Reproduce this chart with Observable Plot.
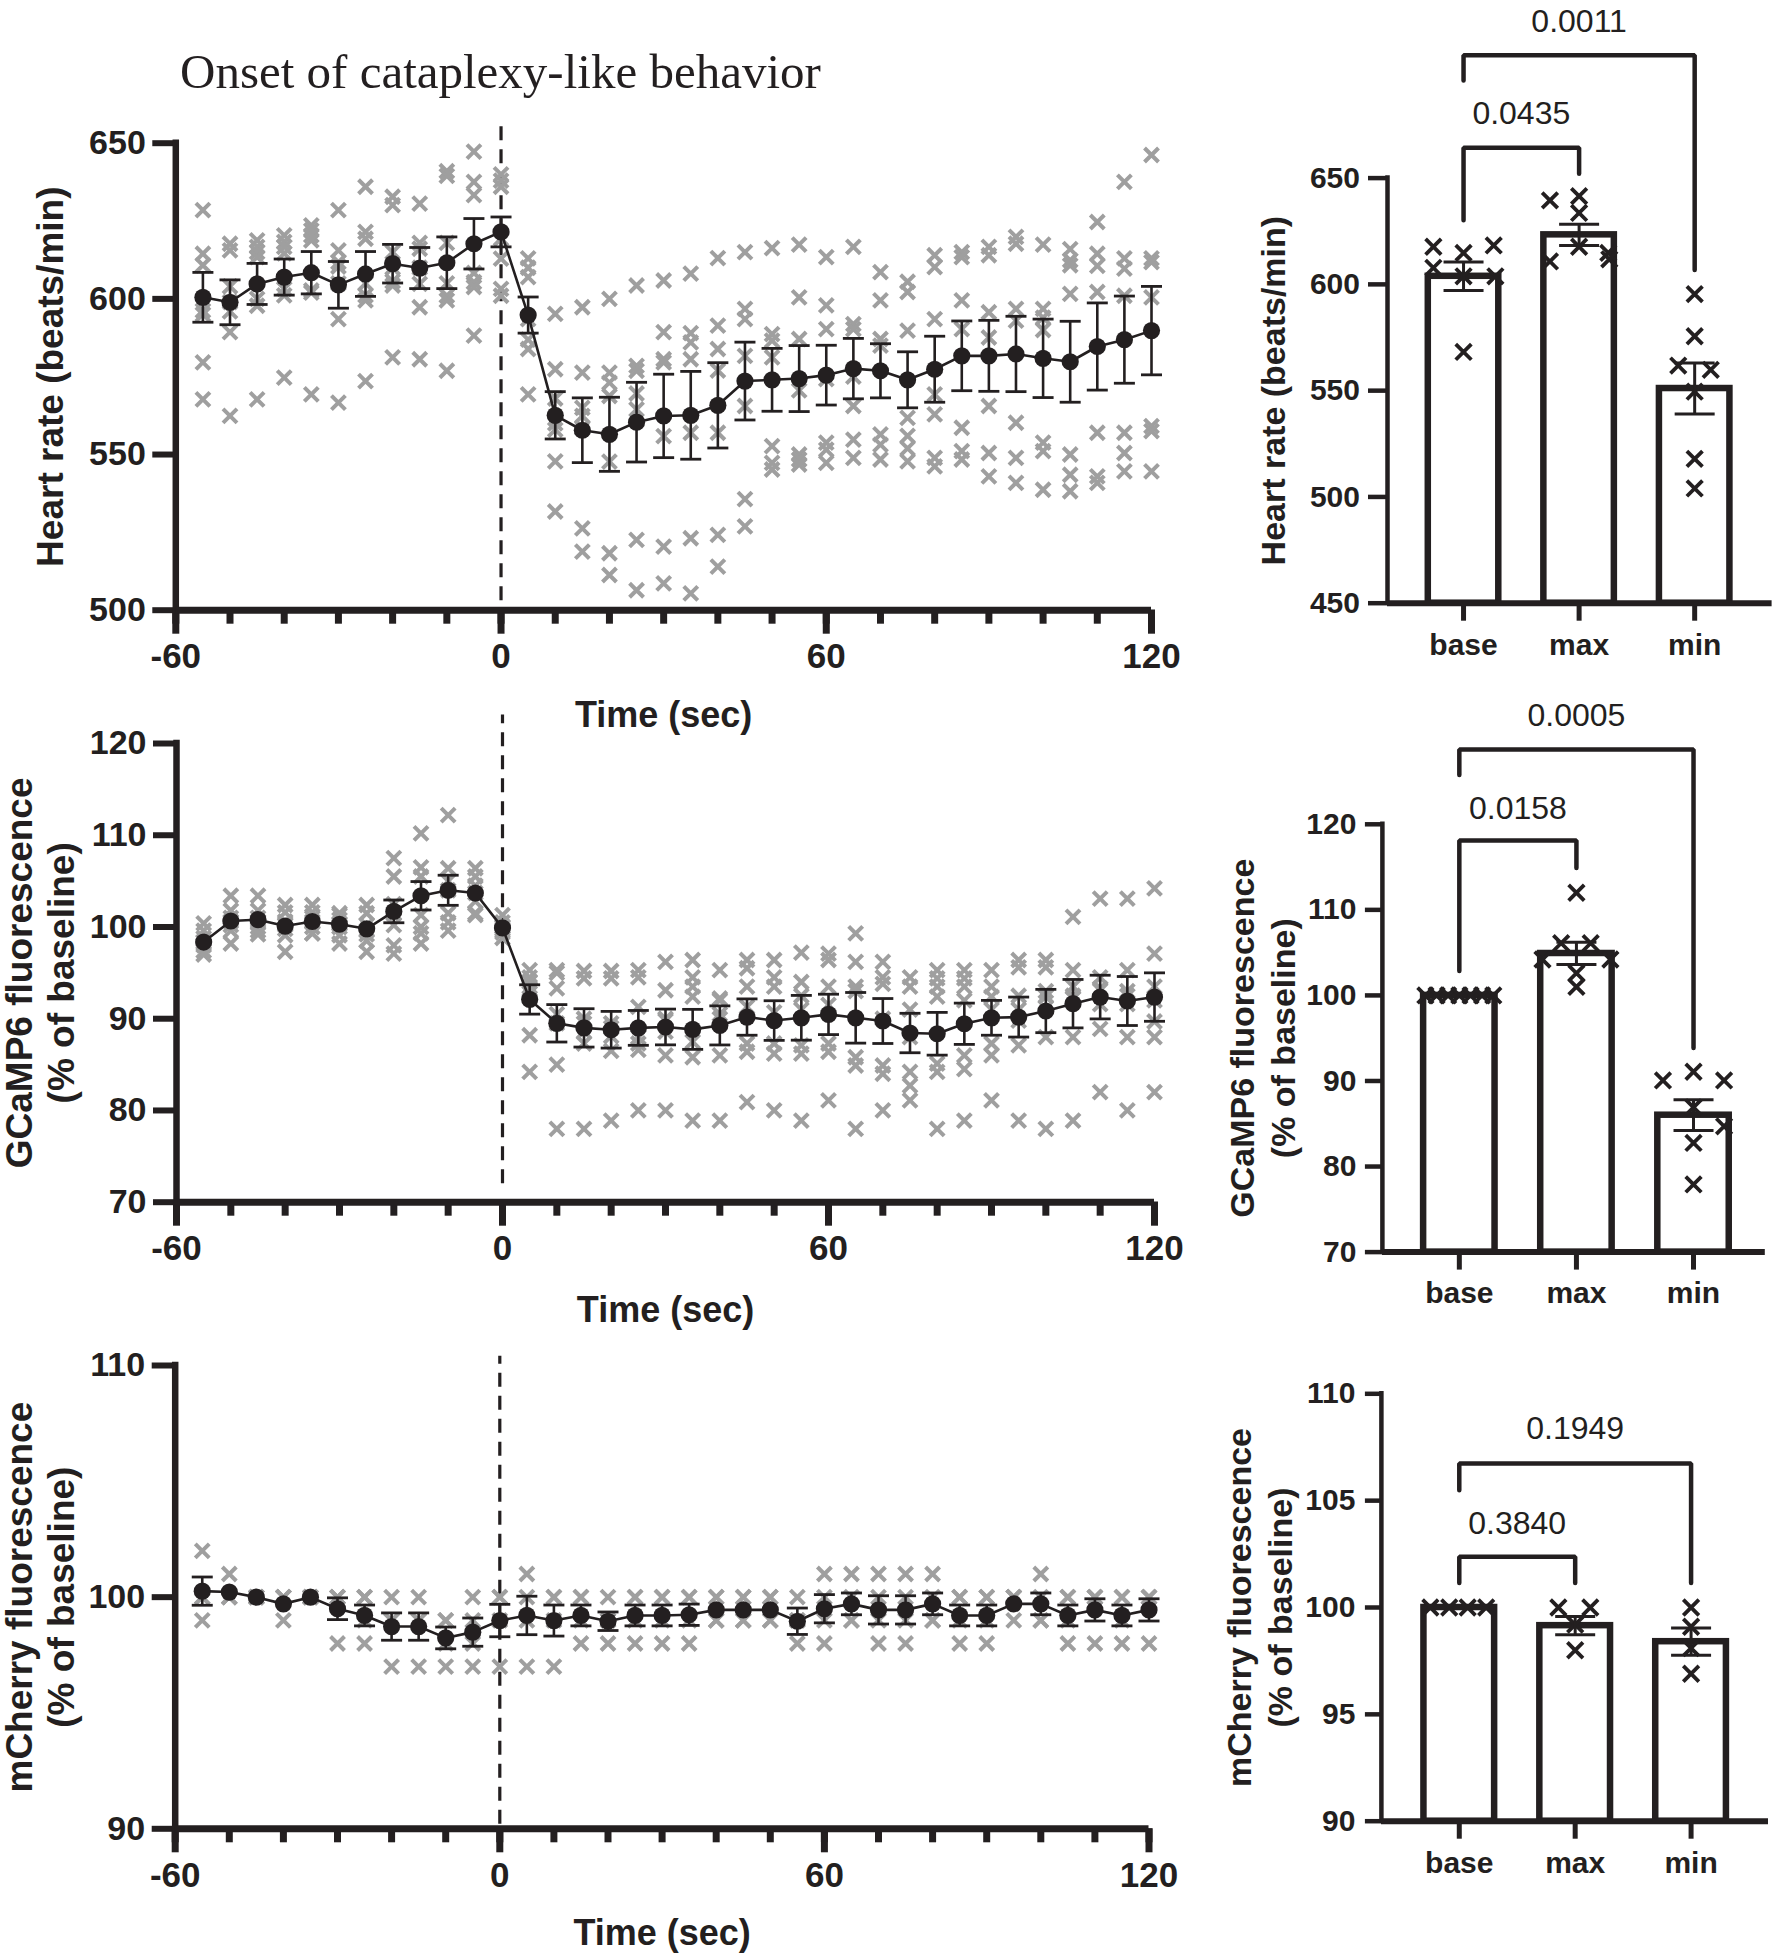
<!DOCTYPE html>
<html><head><meta charset="utf-8">
<script src="https://cdn.jsdelivr.net/npm/d3@7"></script>
<script src="https://cdn.jsdelivr.net/npm/@observablehq/plot@0.6"></script>
<style>
body{margin:0;background:#fff;}
#root{position:relative;width:1776px;height:1956px;overflow:hidden;background:#fff;}
.panel{position:absolute;}
.panel svg{display:block;overflow:visible;background:transparent;max-width:none;}
#title{position:absolute;left:180px;top:47px;font-family:"Liberation Serif","Times New Roman",serif;font-size:49px;line-height:49px;color:#231f20;white-space:nowrap;}
</style></head>
<body><div id="root"><div id="title">Onset of cataplexy-like behavior</div></div>
<script>
// ---------------- data ----------------
const times = [-55,-50,-45,-40,-35,-30,-25,-20,-15,-10,-5,0,5,10,15,20,25,30,35,40,45,50,55,60,65,70,75,80,85,90,95,100,105,110,115,120];
const minorTicks = [-60,-50,-40,-30,-20,-10,0,10,20,30,40,50,60,70,80,90,100,110,120];
const majorTicks = [-60,0,60,120];

// Heart rate (beats/min), mean and SEM per time point
const hrMean = [600.5,598.9,604.8,607.0,608.4,604.5,608.0,611.3,609.9,611.6,617.7,621.5,594.8,562.6,557.8,556.5,560.4,562.4,562.6,565.8,573.6,574.0,574.4,575.5,577.6,576.9,574.0,577.4,581.7,581.7,582.3,580.9,579.8,584.7,586.9,589.8];
const hrSem = [8,7.2,6.6,5.8,6.8,7.5,7.2,6.2,6.6,8.3,8.1,4.8,5.8,7.6,10.4,11.9,12.8,13.4,14.1,13.7,12.5,10.1,10.6,9.6,9.7,8.7,9.0,10.6,11.2,11.4,12.1,12.6,13.0,14.0,14.0,14.2];
// individual animals (7) per time point
const hrSubjects = [
[628.5,614.5,610.8,596.2,595,579.6,567.7],
[617.7,615.6,604,599,596,589.3,562.4],
[618.8,616.7,615,613.4,600,597.8,567.7],
[620.4,618.3,616.7,614.6,603.2,601.1,574.7],
[623.6,622,620.4,618.8,602.7,602,569.3],
[628.5,615.6,611.8,610.4,605,593.5,566.7],
[636,621.5,619.3,605,601.1,599.5,573.6],
[632.8,630.1,615,610,605.6,604.3,581.2],
[630.6,618,616.1,610,604.8,597.3,580.6],
[641,639.5,618,605,601,599.5,576.9],
[647.3,637.6,633.3,608.3,605.4,603.8,588.2],
[640,638,636,619.3,612.9,603.2,601],
[613,610,607,593.5,586.9,583.9,569.3],
[595.2,577.4,568,560,558,547.8,531.7],
[597.3,576.3,565,562.4,558.5,526.3,518.8],
[600,576.3,573.1,568.8,547.7,518.3,511.3],
[604.3,578.5,576.9,569.6,564.5,522.6,506.4],
[605.9,589.3,580.6,579.6,555.9,520.4,508.6],
[608.1,589,586,580.6,557,523.1,505.4],
[613.1,591.4,583.9,577,557,524.2,514],
[615,596.8,593.5,581.7,565.6,535.7,526.9],
[616.3,588.7,586.6,581.2,552.7,547.3,545.2],
[617.4,600.5,587.1,570.6,550,548.4,546.8],
[613.4,597.9,590.3,574.2,553.8,551.6,547.3],
[616.7,591.9,590.3,575,565.6,554.8,548.9],
[608.6,599.5,587.1,585,556.5,553.2,548.4],
[605.5,602.2,589.8,561.8,556,552,547.8],
[614,610.2,593.5,569.3,562.9,548.9,546.2],
[615,613.4,599.5,590.3,558.6,551.1,548.4],
[616.7,614,595.7,587.6,565.6,550.5,543],
[619.9,617.7,596.8,593,560.2,548.9,540.9],
[617.4,596.8,594,590,553.8,551.1,538.7],
[616,612.4,610.8,601.6,550,543.5,538.2],
[624.7,614.5,610.6,602.2,557,543,540.9],
[637.6,613,609.7,601,557,550.5,544.6],
[646.2,613,611.8,600.5,559.1,557.5,544.6]
];

// GCaMP6 fluorescence (% of baseline)
const gcMean = [98.36,100.65,100.8,100.1,100.6,100.3,99.8,101.7,103.4,104.0,103.7,99.9,92.1,89.5,89.0,88.8,89.0,89.1,88.84,89.27,90.18,89.8,90.1,90.47,90.1,89.75,88.44,88.36,89.45,90.1,90.18,90.84,91.64,92.36,91.93,92.36];
// null = error bar smaller than the symbol (not drawn)
const gcSem = [null,null,null,null,null,null,null,1.24,1.55,1.64,null,null,1.6,2.04,2.09,2.0,1.9,1.95,2.18,2.13,1.98,2.16,2.44,2.2,2.76,2.45,2.15,2.33,2.25,1.9,2.18,2.36,2.64,2.38,2.67,2.64];
const gcSubjects = [
[100.4,99.6,98.8,98.4,98,97.4,97],
[103.4,101.8,101,100.6,100.2,99.6,98.2],
[103.4,101.8,101,100.6,100,99.6,99.2],
[102.4,101.6,100.6,100.2,99.8,99.1,97.3],
[102.4,101.6,101,100.6,100,99.3,99.3],
[101.5,101.3,100.8,100.4,100,99.1,98.2],
[102.4,101.5,100.2,99.6,99.2,98.5,97.3],
[107.5,105.5,102.5,101.5,100.2,98,97.1],
[110.2,106.5,105.5,101.3,100,99.3,98.2],
[112.2,106.4,105,104,101.5,100.5,99.6],
[106.4,105.5,104.5,103.7,102.8,101.5,101.3],
[101.3,100.5,100,99.8,99.6,99.4,98.8],
[95.3,94.5,94,93.5,93.2,88.2,84.2],
[95.3,95,93.3,90.5,89.5,85,78],
[95.2,94.4,90,89.5,88.6,87.3,78],
[95.2,94.4,89.5,89,88.1,86.5,78.9],
[95.3,94.5,91.3,88,87.3,86.6,80],
[96.2,93.1,90,89.8,88.6,86,80],
[96.4,94.5,93.5,92.4,87.5,85.8,78.9],
[95.3,92.2,92,90.5,90,86,78.9],
[96.4,95.5,93.5,91.3,87.3,86.4,80.9],
[96.4,94.5,93.5,90.7,87.3,86.2,80],
[97.2,94,92.5,91,87.1,86.2,78.9],
[97.1,96.4,93.5,91.5,87.3,86.4,81.1],
[99.3,96.2,93.5,93,85.8,84.9,78],
[96.2,94.5,93.8,90,84.9,84,80],
[94.5,93.5,91,88,84.2,82.7,81.1],
[95.3,94.4,93.5,92.4,85.1,84.2,78],
[95.3,94.4,93.5,92,86,84.5,78.9],
[95.3,93.5,92.4,91,87.3,86,81.1],
[96.4,95.6,92.5,91,89.8,87.1,78.9],
[96.4,95.6,93,92.5,92.4,88,78],
[101.1,95.3,93.5,92.5,92.2,88,78.9],
[103.1,94.5,93.3,93.1,91.6,88.9,82],
[103.1,95.3,93,92.5,91.6,88,80],
[104.2,97.1,93.5,92,89.7,88,82]
];

// mCherry fluorescence (% of baseline)
const mcMean = [100.26,100.22,100.0,99.71,100.0,99.5,99.21,98.73,98.73,98.24,98.49,98.99,99.21,98.99,99.21,98.96,99.21,99.21,99.24,99.45,99.45,99.45,98.96,99.5,99.71,99.45,99.45,99.71,99.21,99.21,99.71,99.71,99.21,99.45,99.21,99.45];
const mcSem = [0.61,null,null,null,null,0.47,0.45,0.59,0.59,0.47,0.61,0.7,0.83,0.67,0.45,0.4,0.45,0.45,0.46,null,null,null,0.57,0.61,0.47,0.61,0.61,0.47,0.45,0.45,null,0.47,0.45,0.48,0.45,0.48];
const mcSubjects = [
[102,100,100,99],[101,100,100,100],[100,100,100,100],[100,100,100,99],[100,100,100,100],
[100,100,100,98],[100,100,99,98],[100,99,99,97],[100,99,99,97],[99,99,98,97],
[100,99,98,97],[100,100,99,97],[101,100,99,97],[100,100,99,97],[100,100,99,98],
[100,99,99,98],[100,100,99,98],[100,100,99,98],[100,100,99,98],[100,100,99,99],
[100,100,99,99],[100,100,99,99],[100,99,99,98],[101,100,99,98],[101,100,99,99],
[101,100,99,98],[101,100,99,98],[101,100,99,99],[100,100,99,98],[100,100,99,98],
[100,100,100,99],[101,100,99,99],[100,100,99,98],[100,100,100,98],[100,100,99,98],
[100,100,100,98]
];

// Summary bar charts
const barGroups = ["base","max","min"];
const hrBarMean = [603.8, 623.3, 551.0];
const hrBarSem = [6.7, 5.0, 12.0];
const hrBarPoints = [[617.7,614.8,618.3,607.8,603.8,603.8,568.2],[639.5,641.5,633.6,617.7,610.8,614.8,611.8],[595.4,575.6,561.8,559.8,549.5,517.9,504.0]];
const hrBarLanes = [[-0.9,0,0.9,-0.9,0,0.95,0],[-0.87,0,0,0,-0.87,0.87,0.9],[0,0,-0.49,0.48,0,0,0]];
const hrBrackets = [
  {from:0, to:1, top:664.3, fromEnd:630.2, toEnd:652.0, p:"0.0435", pY:680.1},
  {from:0, to:2, top:707.8, fromEnd:695.9, toEnd:606.8, p:"0.0011", pY:723.7}
];
const gcBarMean = [100, 104.9, 86.0];
const gcBarSem = [0, 1.3, 1.8];
const gcBarPoints = [[100,100,100,100,100,100,100],[112.0,106.1,106.1,104.2,104.2,102.6,101.0],[90.06,91.08,90.06,82.76,84.7,86.92,77.91]];
const gcBarLanes = [[-1,-0.67,-0.33,0,0.33,0.67,1],[0,-0.45,0.42,-1,1,0,0],[-0.9,0,0.9,0,0.9,0,0]];
const gcBrackets = [
  {from:0, to:1, top:118.1, fromEnd:102.86, toEnd:114.9, p:"0.0158", pY:121.8},
  {from:0, to:2, top:128.75, fromEnd:125.75, toEnd:93.85, p:"0.0005", pY:132.7}
];
const mcBarMean = [100, 99.15, 98.4];
const mcBarSem = [0, 0.43, 0.64];
const mcBarPoints = [[100,100,100,100],[100,100,99.2,98.0],[100,99.1,98.1,96.9]];
const mcBarLanes = [[-0.86,-0.3,0.25,0.8],[-0.5,0.45,0,0],[0,0,0,0]];
const mcBrackets = [
  {from:0, to:1, top:102.37, fromEnd:101.15, toEnd:101.15, p:"0.3840", pY:103.93},
  {from:0, to:2, top:106.74, fromEnd:105.49, toEnd:101.15, p:"0.1949", pY:108.38}
];

// ---------------- drawing ----------------
const INK = "#231f20", GREY = "#9f9f9f";
const FONT = "'Liberation Sans', Arial, Helvetica, sans-serif";

// find out how Plot turns r into a symbol size, so that r = half-extent of the custom symbols
let probedSize = null;
Plot.plot({marks: [Plot.dot([0], {x: d => d, symbol: {draw(ctx, size) { probedSize = size; ctx.moveTo(0, 0); }}, r: 10})]});
const SIZE_K = probedSize ? probedSize / 100 : Math.PI;
const half = (size) => Math.sqrt(size / SIZE_K);
const crossSymbol = {draw(ctx, size) { const h = half(size); ctx.moveTo(-h, -h); ctx.lineTo(h, h); ctx.moveTo(-h, h); ctx.lineTo(h, -h); }};
const capSymbol = {draw(ctx, size) { const w = half(size); ctx.moveTo(-w, 0); ctx.lineTo(w, 0); }};

function margins(box, frame) {
  return {
    width: box.width, height: box.height,
    marginLeft: frame.x0 - box.left, marginRight: box.left + box.width - frame.x1,
    marginTop: frame.yTop - box.top, marginBottom: box.top + box.height - frame.yBottom
  };
}
function mount(svg, box) {
  const div = document.createElement("div");
  div.className = "panel";
  div.style.left = box.left + "px"; div.style.top = box.top + "px";
  div.style.width = box.width + "px"; div.style.height = box.height + "px";
  div.appendChild(svg);
  document.getElementById("root").appendChild(div);
}

function timePanel(c) {
  const meanRows = times.map((t, i) => ({t, m: c.mean[i], s: c.sem[i]}));
  const errRows = meanRows.filter(d => d.s != null);
  const capRows = errRows.flatMap(d => [{t: d.t, y: d.m - d.s}, {t: d.t, y: d.m + d.s}]);
  const subjRows = times.flatMap((t, i) => c.subjects[i].map(v => ({t, v})));
  const [y0, y1] = c.yDomain;
  const svg = Plot.plot({
    ...margins(c.box, c.frame),
    style: {background: "transparent", overflow: "visible", fontFamily: FONT, color: INK},
    x: {domain: [-60, 120]},
    y: {domain: c.yDomain},
    marks: [
      Plot.ruleX([0], {y1: () => c.dash[0], y2: () => c.dash[1], stroke: INK, strokeWidth: 3.2, strokeDasharray: "14,9"}),
      Plot.dot(subjRows, {x: "t", y: "v", symbol: crossSymbol, r: 7, fill: "none", stroke: GREY, strokeWidth: 4}),
      Plot.line(meanRows, {x: "t", y: "m", stroke: INK, strokeWidth: 2.6}),
      Plot.ruleX(errRows, {x: "t", y1: d => d.m - d.s, y2: d => d.m + d.s, stroke: INK, strokeWidth: 2.6}),
      Plot.dot(capRows, {x: "t", y: "y", symbol: capSymbol, r: 10.5, fill: "none", stroke: INK, strokeWidth: 2.8}),
      Plot.dot(meanRows, {x: "t", y: "m", r: 8.6, fill: INK, stroke: "none"}),
      Plot.axisX({ticks: minorTicks, tickSize: 14, strokeWidth: 7, tickFormat: () => "", label: null}),
      Plot.axisX({ticks: majorTicks, tickSize: 24, tickPadding: 9, strokeWidth: 7, tickFormat: d => String(d), fontSize: 35, fontWeight: "bold", label: null}),
      Plot.axisY({ticks: c.yTicks, tickSize: 23, tickPadding: 7, strokeWidth: 6, tickFormat: d => String(d), fontSize: 34, fontWeight: "bold", label: null}),
      Plot.ruleX([-60], {y1: () => y0, y2: () => y1, stroke: INK, strokeWidth: 6.5, strokeLinecap: "square"}),
      Plot.ruleY([y0], {stroke: INK, strokeWidth: 7}),
      Plot.text([c.label], {text: d => d, frameAnchor: "left", textAnchor: "middle", lineAnchor: "middle", rotate: -90, dx: c.labelDx, fontSize: 37, fontWeight: "bold", lineHeight: 1.15, fill: INK}),
      Plot.text(["Time (sec)"], {text: d => d, frameAnchor: "bottom", textAnchor: "middle", lineAnchor: "middle", dy: c.titleDy, fontSize: 36, fontWeight: "bold", fill: INK})
    ]
  });
  mount(svg, c.box);
}

function barPanel(c) {
  const bars = barGroups.map((g, i) => ({i, g, m: c.mean[i], s: c.sem[i]}));
  const errs = bars.filter(d => d.s > 0);
  const caps = errs.flatMap(d => [{i: d.i, y: d.m - d.s}, {i: d.i, y: d.m + d.s}]);
  const pts = c.points.flatMap((vals, i) => vals.map((v, k) => ({i, v, lane: c.lanes[i][k]})));
  const bracketPts = c.brackets.flatMap((b, k) => [
    {k, x: b.from, y: b.fromEnd}, {k, x: b.from, y: b.top}, {k, x: b.to, y: b.top}, {k, x: b.to, y: b.toEnd}
  ]);
  const [y0, y1] = c.yDomain;
  const svg = Plot.plot({
    ...margins(c.box, c.frame),
    style: {background: "transparent", overflow: "visible", fontFamily: FONT, color: INK},
    x: {domain: c.xDomain},
    y: {domain: c.yDomain},
    marks: [
      Plot.rect(bars, {x1: d => d.i - 0.305, x2: d => d.i + 0.305, y1: () => y0, y2: "m", fill: "white", stroke: INK, strokeWidth: 6.5}),
      Plot.dot(pts, {x: d => d.i + d.lane * 0.29, y: "v", symbol: crossSymbol, r: 7.8, fill: "none", stroke: INK, strokeWidth: 3.8}),
      Plot.ruleX(errs, {x: "i", y1: d => d.m - d.s, y2: d => d.m + d.s, stroke: INK, strokeWidth: 3}),
      Plot.dot(caps, {x: "i", y: "y", symbol: capSymbol, r: 20, fill: "none", stroke: INK, strokeWidth: 3}),
      Plot.line(bracketPts, {x: "x", y: "y", z: "k", stroke: INK, strokeWidth: 4.5, strokeLinejoin: "miter"}),
      Plot.text(c.brackets, {x: d => (d.from + d.to) / 2, y: "pY", text: "p", fontSize: 32, fill: INK}),
      Plot.axisY({ticks: c.yTicks, tickSize: c.tickSize, tickPadding: c.tickPadding, strokeWidth: 4.5, tickFormat: d => String(d), fontSize: 30, fontWeight: "bold", label: null}),
      Plot.axisX({ticks: [0, 1, 2], tickFormat: i => barGroups[i], tickSize: 18, tickPadding: 12, strokeWidth: 5, fontSize: 30, fontWeight: "bold", label: null}),
      Plot.ruleX([c.xDomain[0]], {y1: () => y0, y2: () => y1, stroke: INK, strokeWidth: 4.5, strokeLinecap: "square"}),
      Plot.ruleY([y0], {stroke: INK, strokeWidth: 6}),
      Plot.text([c.label], {text: d => d, frameAnchor: "left", textAnchor: "middle", lineAnchor: "middle", rotate: -90, dx: c.labelDx, fontSize: 34, fontWeight: "bold", lineHeight: 1.22, fill: INK})
    ]
  });
  mount(svg, c.box);
}

timePanel({
  mean: hrMean, sem: hrSem, subjects: hrSubjects,
  yDomain: [500, 650], yTicks: [500, 550, 600, 650], dash: [503, 656.7],
  label: "Heart rate (beats/min)", labelDx: -126.3, titleDy: 105,
  box: {left: 0, top: 0, width: 1240, height: 760},
  frame: {x0: 175.3, x1: 1151, yTop: 142.7, yBottom: 609.7}
});
timePanel({
  mean: gcMean, sem: gcSem, subjects: gcSubjects,
  yDomain: [70, 120], yTicks: [70, 80, 90, 100, 110, 120], dash: [72, 123.1],
  label: "GCaMP6 fluorescence\n(% of baseline)", labelDx: -137.3, titleDy: 108,
  box: {left: 0, top: 700, width: 1240, height: 640},
  frame: {x0: 176, x1: 1154, yTop: 743, yBottom: 1201.7}
});
timePanel({
  mean: mcMean, sem: mcSem, subjects: mcSubjects,
  yDomain: [90, 110], yTicks: [90, 100, 110], dash: [90.2, 110.4],
  label: "mCherry fluorescence\n(% of baseline)", labelDx: -136, titleDy: 105,
  box: {left: 0, top: 1330, width: 1240, height: 626},
  frame: {x0: 174.7, x1: 1148.5, yTop: 1365, yBottom: 1828.3}
});
barPanel({
  mean: hrBarMean, sem: hrBarSem, points: hrBarPoints, lanes: hrBarLanes, brackets: hrBrackets,
  yDomain: [450, 650], yTicks: [450, 500, 550, 600, 650], tickSize: 19, tickPadding: 8.5,
  label: "Heart rate (beats/min)", labelDx: -115.4,
  xDomain: [-0.658, 2.67],
  box: {left: 1240, top: 0, width: 536, height: 680},
  frame: {x0: 1387, x1: 1771.6, yTop: 177.6, yBottom: 602.7}
});
barPanel({
  mean: gcBarMean, sem: gcBarSem, points: gcBarPoints, lanes: gcBarLanes, brackets: gcBrackets,
  yDomain: [70, 120], yTicks: [70, 80, 90, 100, 110, 120], tickSize: 17, tickPadding: 9,
  label: "GCaMP6 fluorescence\n(% of baseline)", labelDx: -121,
  xDomain: [-0.657, 2.613],
  box: {left: 1240, top: 680, width: 536, height: 640},
  frame: {x0: 1381.9, x1: 1764.8, yTop: 823.8, yBottom: 1251.6}
});
barPanel({
  mean: mcBarMean, sem: mcBarSem, points: mcBarPoints, lanes: mcBarLanes, brackets: mcBrackets,
  yDomain: [90, 110], yTicks: [90, 95, 100, 105, 110], tickSize: 16, tickPadding: 10,
  label: "mCherry fluorescence\n(% of baseline)", labelDx: -123,
  xDomain: [-0.672, 2.668],
  box: {left: 1240, top: 1320, width: 536, height: 636},
  frame: {x0: 1380.9, x1: 1768, yTop: 1393.3, yBottom: 1820.7}
});
</script></body></html>
